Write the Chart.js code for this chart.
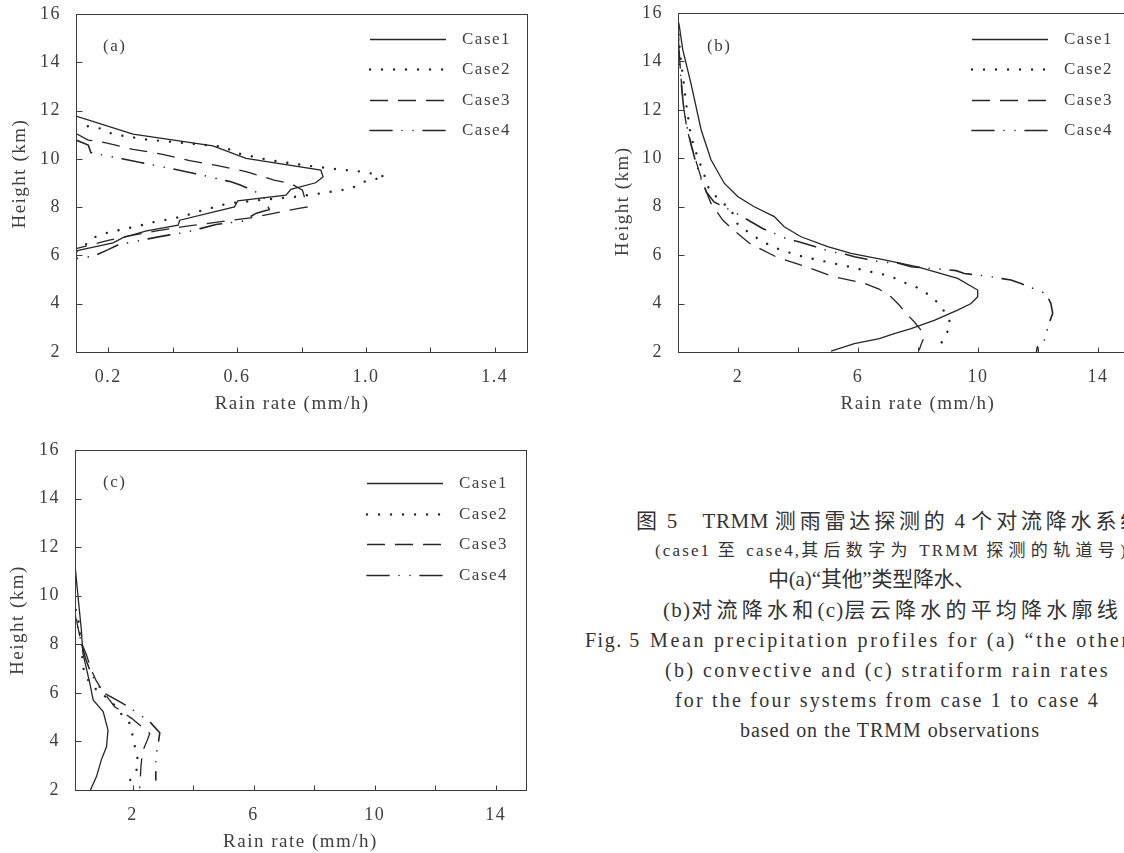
<!DOCTYPE html>
<html lang="zh">
<head>
<meta charset="utf-8">
<title>TRMM mean precipitation profiles</title>
<script src="https://cdn.jsdelivr.net/npm/chart.js@4.4.1/dist/chart.umd.min.js"></script>
<style>
  html, body { margin: 0; padding: 0; background: #fff; width: 1124px; height: 853px; overflow: hidden; position: relative; }
  .panel { position: absolute; }
  .cap { position: absolute; white-space: nowrap; color: #333;
         font-family: "Liberation Serif", "Noto Sans CJK SC", serif; }
</style>
</head>
<body>
<div class="panel" style="left:0;top:0;width:560px;height:425px"><canvas id="chartA"></canvas></div>
<div class="panel" style="left:600px;top:0;width:600px;height:425px"><canvas id="chartB"></canvas></div>
<div class="panel" style="left:0;top:436px;width:560px;height:427px"><canvas id="chartC"></canvas></div>
<div id="caption"></div>

<script>
// ---- series: [rain rate (mm/h), height (km)] from top of profile downward ----
const caseLabels = ['Case1', 'Case2', 'Case3', 'Case4'];

// (a) "other" rain type
const a_case1 = [[0.1,11.77],[0.277,11.02],[0.525,10.54],[0.628,10.02],[0.86,9.53],[0.867,9.26],[0.844,9.01],[0.767,8.74],[0.752,8.5],[0.602,8.26],[0.592,8.01],[0.422,7.46],[0.417,7.25],[0.319,7.02],[0.246,6.74],[0.215,6.52],[0.1,6.19]];
const a_case2 = [[0.1,11.44],[0.174,11.26],[0.215,11.02],[0.319,10.8],[0.422,10.67],[0.561,10.5],[0.595,10.25],[0.7,9.95],[0.805,9.74],[0.911,9.57],[0.978,9.48],[1.014,9.4],[1.06,9.26],[0.994,9.05],[0.953,8.77],[0.855,8.56],[0.782,8.43],[0.669,8.29],[0.571,8.15],[0.474,7.8],[0.434,7.62],[0.33,7.35],[0.293,7.22],[0.2,6.95],[0.154,6.74],[0.118,6.3],[0.1,6.15]];
const a_case3 = [[0.1,11.05],[0.138,10.78],[0.19,10.67],[0.277,10.39],[0.365,10.2],[0.453,9.93],[0.54,9.72],[0.628,9.47],[0.715,9.12],[0.767,8.98],[0.803,8.7],[0.818,8.01],[0.788,7.94],[0.648,7.57],[0.55,7.4],[0.45,7.22],[0.35,7.02],[0.26,6.8],[0.2,6.62],[0.14,6.42],[0.1,6.28]];
const a_case4 = [[0.1,10.78],[0.138,10.57],[0.146,10.26],[0.195,10.13],[0.3,9.85],[0.406,9.57],[0.5,9.3],[0.581,9.05],[0.612,8.91],[0.679,8.5],[0.69,8.2],[0.7,7.9],[0.66,7.75],[0.617,7.42],[0.535,7.28],[0.447,6.98],[0.36,6.78],[0.269,6.54],[0.234,6.46],[0.2,6.24],[0.154,5.97],[0.1,5.87]];

// (b) convective rain
const b_case1 = [[0.0,15.7],[0.04,15.5],[0.16,14.48],[0.43,13.1],[0.77,11.18],[1.1,9.94],[1.54,8.97],[1.99,8.42],[2.54,8.0],[3.21,7.59],[3.54,7.17],[4.1,6.76],[4.99,6.35],[5.77,6.07],[6.88,5.8],[7.99,5.52],[9.32,5.04],[9.99,4.56],[9.99,4.28],[9.77,4.0],[9.32,3.73],[8.54,3.31],[7.77,2.97],[7.21,2.76],[6.71,2.55],[5.88,2.35],[5.1,2.04]];
const b_case2 = [[0.02,15.1],[0.06,14.5],[0.1,14.0],[0.2,13.0],[0.3,12.0],[0.42,11.0],[0.55,10.4],[0.7,9.9],[0.88,9.3],[1.04,8.7],[1.27,8.42],[1.55,8.1],[1.77,7.9],[1.93,7.35],[2.32,6.97],[2.7,6.65],[3.04,6.42],[3.43,6.21],[4.16,5.94],[4.93,5.73],[5.71,5.52],[6.43,5.31],[6.82,5.21],[7.19,5.07],[7.54,4.87],[7.93,4.69],[8.3,4.41],[8.66,4.04],[8.93,3.59],[9.1,3.15],[8.93,2.69],[8.71,2.23]];
const b_case3 = [[0.0,15.6],[0.03,14.8],[0.06,14.0],[0.12,13.0],[0.2,12.0],[0.3,11.2],[0.45,10.5],[0.62,9.8],[0.82,9.0],[1.1,8.14],[1.49,7.45],[1.82,7.07],[2.38,6.49],[3.32,5.9],[4.27,5.52],[5.21,5.1],[6.16,4.86],[6.7,4.6],[7.1,4.28],[7.38,3.93],[7.6,3.6],[7.88,3.24],[8.1,2.9],[8.21,2.62],[8.1,2.3],[8.04,2.07]];
const b_case4 = [[0.0,15.2],[0.04,14.2],[0.1,13.2],[0.18,12.2],[0.3,11.3],[0.45,10.5],[0.6,9.8],[0.75,9.2],[0.95,8.6],[1.2,8.2],[1.6,7.95],[2.04,7.66],[2.82,7.1],[3.21,6.9],[3.6,6.69],[3.99,6.56],[4.77,6.28],[5.1,6.14],[5.49,6.07],[5.88,5.93],[6.71,5.73],[7.38,5.66],[7.77,5.52],[8.49,5.45],[9.27,5.36],[9.54,5.24],[10.32,5.13],[11.1,4.97],[11.43,4.83],[12.27,4.41],[12.43,4.0],[12.49,3.59],[12.32,3.03],[12.27,2.55],[11.99,2.28],[11.95,2.0]];

// (c) stratiform rain
const c_case1 = [[0.09,11.4],[0.2,9.96],[0.31,8.59],[0.36,7.63],[0.59,6.39],[0.7,5.71],[1.03,5.23],[1.19,4.47],[1.14,3.78],[0.97,3.24],[0.81,2.55],[0.61,2.0]];
const c_case2 = [[0.05,10.4],[0.09,9.89],[0.14,9.27],[0.25,8.79],[0.27,8.31],[0.36,7.83],[0.33,7.28],[0.42,6.8],[0.62,6.32],[0.95,6.0],[1.3,5.65],[1.61,5.16],[1.91,4.74],[2.0,4.26],[2.08,3.78],[2.17,3.28],[2.13,2.78],[1.86,2.3]];
const c_case3 = [[0.02,10.2],[0.08,9.6],[0.18,8.8],[0.3,8.1],[0.48,7.56],[0.64,6.94],[0.8,6.5],[1.0,6.1],[1.41,5.43],[1.97,4.95],[2.3,4.61],[2.57,4.33],[2.49,4.06],[2.33,3.58],[2.28,3.0],[2.24,2.07]];
const c_case4 = [[0.0,10.0],[0.06,9.5],[0.15,8.9],[0.28,8.2],[0.45,7.4],[0.6,6.9],[0.8,6.4],[1.05,6.0],[1.47,5.71],[1.86,5.43],[2.57,4.81],[2.9,4.36],[2.85,3.9],[2.77,3.37],[2.77,2.41]];

// axis ticks
const heightTicks = [2, 4, 6, 8, 10, 12, 14, 16];
const rateTicksA = [0.2, 0.4, 0.6, 0.8, 1.0, 1.2, 1.4];
const rateLabelsA = ['0.2', '', '0.6', '', '1.0', '', '1.4'];
const rateTicksBC = [2, 4, 6, 8, 10, 12, 14];
const rateLabelsBC = ['2', '', '6', '', '10', '', '14'];

// axis titles
const rateTitle = 'Rain rate (mm/h)';
const heightTitle = 'Height (km)';

// caption
const captionText = [
  '图 5　TRMM 测雨雷达探测的 4 个对流降水系统',
  '(case1 至 case4,其后数字为 TRMM 探测的轨道号)',
  '中(a)“其他”类型降水、',
  '(b)对流降水和(c)层云降水的平均降水廓线',
  'Fig. 5',
  'Mean precipitation profiles for (a) “the other”,',
  '(b) convective and (c) stratiform rain rates',
  'for the four systems from case 1 to case 4',
  'based on the TRMM observations'
];

// ---- styling ----
const INK = '#262626';
const TEXT = '#404040';
const FRAME = '#3c3c3c';
const caseStyles = [
  { borderWidth: 1.3, borderDash: [], borderCapStyle: 'butt' },
  { borderWidth: 2.4, borderDash: [0.01, 12], borderCapStyle: 'round' },
  { borderWidth: 1.3, borderDash: [18, 10], borderCapStyle: 'butt' },
  { borderWidth: 1.6, borderDash: [22, 10, 0.01, 11, 0.01, 10], borderCapStyle: 'round' }
];

Chart.defaults.font.family = '"Liberation Serif", "Times New Roman", serif';
Chart.defaults.color = TEXT;

// wider tracking for all text on the canvases
const spacingPlugin = {
  id: 'spacing',
  beforeLayout(chart) { chart.ctx.letterSpacing = '1.5px'; },
  beforeDraw(chart) { chart.ctx.letterSpacing = '1.5px'; }
};

// closed frame with inward tick marks
const framePlugin = {
  id: 'frame',
  afterDatasetsDraw(chart) {
    const { ctx, chartArea: a, scales } = chart;
    const L = Math.round(a.left) + 0.5, R = Math.round(a.right) + 0.5;
    const T = Math.round(a.top) + 0.5, B = Math.round(a.bottom) + 0.5;
    ctx.save();
    ctx.strokeStyle = FRAME;
    ctx.lineWidth = 1;
    ctx.setLineDash([]);
    ctx.strokeRect(L, T, R - L, B - T);
    ctx.beginPath();
    scales.x.ticks.forEach(t => {
      const px = Math.round(scales.x.getPixelForValue(t.value)) + 0.5;
      if (px > L + 1 && px < R - 1) { ctx.moveTo(px, B); ctx.lineTo(px, B - 5); }
    });
    scales.y.ticks.forEach(t => {
      const py = Math.round(scales.y.getPixelForValue(t.value)) + 0.5;
      if (py > T + 1 && py < B - 1) { ctx.moveTo(L, py); ctx.lineTo(L + 6, py); }
    });
    ctx.stroke();
    ctx.restore();
  }
};

// in-plot key and panel tag
const keyPlugin = {
  id: 'caseKey',
  afterDraw(chart, args, o) {
    const { ctx, chartArea: a } = chart;
    ctx.save();
    ctx.font = '17px "Liberation Serif", serif';
    ctx.textBaseline = 'middle';
    ctx.textAlign = 'left';
    chart.data.datasets.forEach((ds, i) => {
      const y = Math.round(a.top + o.top + i * o.gap) + 0.5;
      ctx.beginPath();
      ctx.strokeStyle = ds.borderColor;
      ctx.lineWidth = ds.borderWidth;
      ctx.lineCap = ds.borderCapStyle;
      ctx.setLineDash(ds.borderDash);
      ctx.moveTo(a.left + o.x0, y);
      ctx.lineTo(a.left + o.x1, y);
      ctx.stroke();
      ctx.setLineDash([]);
      ctx.fillStyle = TEXT;
      ctx.fillText(ds.label, a.left + o.tx, y);
    });
    ctx.fillStyle = TEXT;
    ctx.fillText(o.tag, a.left + o.tagX, a.top + o.tagY);
    ctx.restore();
  }
};

// titles are centred on their axis; blank padding on one side nudges the visible words along it
const pad = n => ' '.repeat(n);

function profileChart(id, p) {
  return new Chart(document.getElementById(id), {
    type: 'scatter',
    data: {
      datasets: p.series.map((pts, i) => Object.assign({
        label: caseLabels[i],
        data: pts.map(([x, y]) => ({ x, y })),
        showLine: true,
        pointRadius: 0,
        pointHoverRadius: 0,
        tension: 0,
        fill: false,
        borderColor: INK
      }, caseStyles[i]))
    },
    options: {
      responsive: true,
      maintainAspectRatio: false,
      animation: false,
      devicePixelRatio: 1,
      events: [],
      layout: { padding: p.padding },
      plugins: { legend: { display: false }, tooltip: { enabled: false }, caseKey: p.key },
      scales: {
        x: {
          type: 'linear', position: 'bottom', min: p.xMin, max: p.xMax,
          afterBuildTicks: ax => { ax.ticks = p.xTicks.map(v => ({ value: v })); },
          afterFit: ax => { ax.height = 73; ax.paddingLeft = 0; ax.paddingRight = 0; },
          grid: { display: false, drawTicks: false },
          border: { display: false },
          ticks: { autoSkip: false, maxRotation: 0, padding: 14, font: { size: 18 }, color: TEXT,
                   callback: (v, i) => p.xLabels[i] },
          title: { display: true, text: rateTitle + pad(p.xTitleShift || 0), font: { size: 19 }, color: TEXT,
                   padding: { top: 0, bottom: 10 } }
        },
        y: {
          type: 'linear', position: 'left', min: 2, max: 16,
          afterBuildTicks: ax => { ax.ticks = heightTicks.map(v => ({ value: v })); },
          afterFit: ax => { ax.width = p.yWidth; ax.paddingTop = 0; ax.paddingBottom = 0; },
          grid: { display: false, drawTicks: false },
          border: { display: false },
          ticks: { autoSkip: false, padding: 15, font: { size: 18 }, color: TEXT,
                   callback: v => String(v) },
          title: { display: true, text: pad(p.yTitleUp || 0) + heightTitle + pad(p.yTitleDown || 0),
                   font: { size: 19 }, color: TEXT, padding: { top: p.yTitlePad, bottom: 0 } }
        }
      }
    },
    plugins: [spacingPlugin, framePlugin, keyPlugin]
  });
}

profileChart('chartA', {
  series: [a_case1, a_case2, a_case3, a_case4],
  xMin: 0.1, xMax: 1.5, xTicks: rateTicksA, xLabels: rateLabelsA,
  padding: { top: 14, right: 33, bottom: 0, left: 0 }, yWidth: 76, yTitlePad: 9,
  xTitleShift: 3, yTitleUp: 3,
  key: { top: 25, gap: 30.3, x0: 294, x1: 370, tx: 386, tag: '(a)', tagX: 27, tagY: 33 }
});

// panel (b) runs on past the right page edge
profileChart('chartB', {
  series: [b_case1, b_case2, b_case3, b_case4],
  xMin: 0, xMax: 16, xTicks: rateTicksBC, xLabels: rateLabelsBC,
  padding: { top: 13, right: 42, bottom: 0, left: 0 }, yWidth: 78, yTitlePad: 12,
  yTitleDown: 6,
  key: { top: 26, gap: 30.3, x0: 294, x1: 370, tx: 386, tag: '(b)', tagX: 29, tagY: 34 }
});

profileChart('chartC', {
  series: [c_case1, c_case2, c_case3, c_case4],
  xMin: 0.1, xMax: 15, xTicks: rateTicksBC, xLabels: rateLabelsBC,
  padding: { top: 14, right: 34, bottom: 0, left: 0 }, yWidth: 75, yTitlePad: 7,
  key: { top: 33, gap: 30.7, x0: 292, x1: 368, tx: 384, tag: '(c)', tagX: 28, tagY: 33 }
});

// ---- caption block (lines running past the page edge are simply cut off) ----
// k: share of the extra tracking given to Latin runs relative to CJK characters
const captionLayout = [
  { x: 636, y: 522, size: 21, right: 1145, k: 0.15 },
  { x: 655, y: 551, size: 17, right: 1128, k: 0.4 },
  { x: 768, y: 580, size: 21, right: 975, k: 0.3 },
  { x: 663, y: 611, size: 21, right: 1122, k: 0.3 },
  { x: 585, y: 640, size: 20, ls: 1.5 },
  { x: 650, y: 640, size: 20, right: 1150, k: 1 },
  { x: 665, y: 670, size: 20, right: 1110, k: 1 },
  { x: 675, y: 700, size: 20, right: 1100, k: 1 },
  { x: 740, y: 730, size: 20, right: 1040, k: 1 }
];

const CJK = /([\u3000-\u303f\u4e00-\u9fff\uff00-\uffef]+)/;
const capBox = document.getElementById('caption');
const capEls = captionText.map((t, i) => {
  const L = captionLayout[i];
  const el = document.createElement('div');
  el.className = 'cap';
  t.split(CJK).forEach(part => {
    if (!part) return;
    const s = document.createElement('span');
    s.textContent = part;
    s.dataset.cjk = CJK.test(part) ? '1' : '0';
    el.appendChild(s);
  });
  el.style.left = L.x + 'px';
  el.style.top = (L.y - L.size * 0.6) + 'px';
  el.style.fontSize = L.size + 'px';
  el.style.lineHeight = (L.size * 1.2) + 'px';
  el.style.letterSpacing = (L.ls || 0) + 'px';
  capBox.appendChild(el);
  return el;
});

// spread each line between its left and right extents
function fitCaption() {
  capEls.forEach((el, i) => {
    const L = captionLayout[i];
    if (!L.right) return;
    const spans = [...el.children];
    spans.forEach(s => { s.style.letterSpacing = '0px'; });
    const w = el.getBoundingClientRect().width;
    let nC = 0, nL = 0;
    spans.forEach(s => {
      const n = [...s.textContent].length;
      if (s.dataset.cjk === '1') nC += n; else nL += n;
    });
    const unit = (L.right - L.x - w) / (nC + L.k * nL);
    spans.forEach(s => {
      s.style.letterSpacing = (s.dataset.cjk === '1' ? unit : unit * L.k) + 'px';
    });
  });
}
fitCaption();
if (document.fonts && document.fonts.ready) document.fonts.ready.then(fitCaption);
</script>
</body>
</html>
